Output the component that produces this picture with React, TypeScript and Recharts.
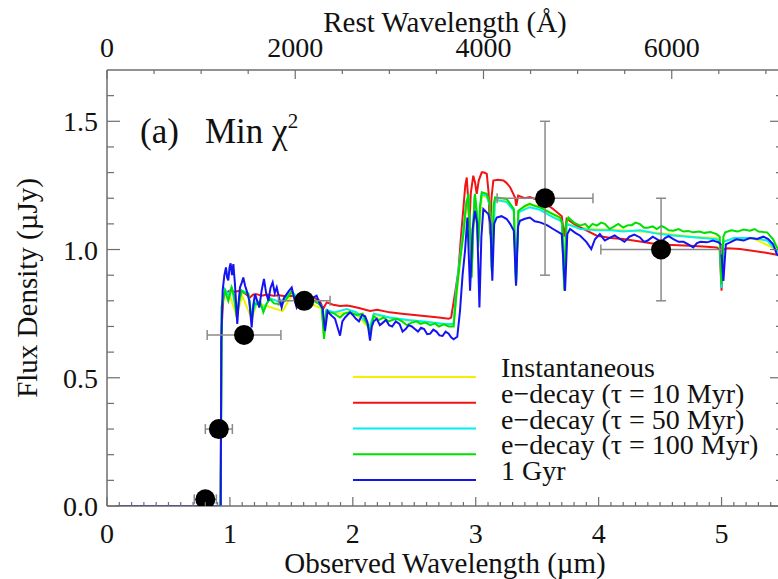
import React from "react";
import { ComposedChart, Line, Scatter, ErrorBar, XAxis, YAxis, Legend } from "recharts";

// model SEDs, [observed wavelength (um), flux density (uJy)]
const INSTANTANEOUS: [number, number][] = [
  [0.08, 0], [0.92, 0], [0.925, 0], [0.933, 0.75], [0.96, 0.83], [1.0, 0.82], [1.055, 0.74], [1.1, 0.82],
  [1.177, 0.73], [1.22, 0.79], [1.3, 0.78], [1.43, 0.76], [1.5, 0.82], [1.6, 0.8], [1.747, 0.77], [1.766, 0.66],
  [1.785, 0.76], [1.9, 0.75], [2.0, 0.76], [2.14, 0.69], [2.17, 0.745], [2.35, 0.73], [2.5, 0.72], [2.7, 0.712],
  [2.82, 0.705], [2.845, 0.83], [2.9, 1.07], [2.93, 1.19], [2.955, 1.1], [2.967, 0.91], [2.99, 1.2], [3.02, 1.02],
  [3.05, 1.21], [3.09, 1.205], [3.115, 1.17], [3.13, 0.92], [3.157, 1.19], [3.252, 1.19], [3.31, 1.155], [3.328, 0.87],
  [3.347, 1.15], [3.44, 1.175], [3.523, 1.17], [3.63, 1.135], [3.7, 1.115], [3.72, 0.845], [3.74, 1.1], [3.85, 1.085],
  [3.985, 1.08], [4.2, 1.075], [4.473, 1.065], [4.77, 1.05], [4.96, 1.045], [4.985, 1.035], [5.0, 0.85], [5.015, 1.035],
  [5.25, 1.045], [5.45, 1.0], [5.5, 0.985],
];

const EDECAY_10: [number, number][] = [
  [0.08, 0], [0.92, 0], [0.925, 0], [0.93, 0.66], [0.946, 0.826], [0.974, 0.833], [1.0, 0.84], [1.04, 0.835],
  [1.082, 0.839], [1.12, 0.83], [1.163, 0.813], [1.19, 0.825], [1.218, 0.826], [1.26, 0.82], [1.3, 0.825], [1.353, 0.82],
  [1.4, 0.822], [1.45, 0.818], [1.516, 0.82], [1.56, 0.816], [1.6, 0.815], [1.679, 0.813], [1.73, 0.8], [1.76, 0.77],
  [1.788, 0.794], [1.84, 0.785], [1.896, 0.78], [1.95, 0.782], [1.977, 0.78], [2.05, 0.772], [2.14, 0.76], [2.2, 0.765],
  [2.3, 0.755], [2.4, 0.75], [2.5, 0.745], [2.6, 0.74], [2.7, 0.735], [2.78, 0.73], [2.8, 0.735], [2.813, 0.774],
  [2.835, 0.84], [2.859, 0.917], [2.88, 1.05], [2.9, 1.164], [2.915, 1.25], [2.927, 1.281], [2.938, 1.2], [2.948, 1.086],
  [2.96, 1.22], [2.98, 1.288], [2.995, 1.26], [3.008, 1.217], [3.025, 1.27], [3.049, 1.301], [3.07, 1.3], [3.09, 1.295],
  [3.105, 1.22], [3.116, 1.06], [3.128, 1.2], [3.143, 1.269], [3.18, 1.272], [3.225, 1.269], [3.25, 1.26], [3.28, 1.243],
  [3.32, 1.203], [3.33, 1.17], [3.345, 1.21], [3.4, 1.2], [3.44, 1.205], [3.523, 1.19], [3.58, 1.175], [3.63, 1.158],
  [3.7, 1.13], [3.72, 1.05], [3.74, 1.12], [3.8, 1.1], [3.85, 1.086], [3.92, 1.07], [3.985, 1.054], [4.1, 1.045],
  [4.2, 1.041], [4.35, 1.03], [4.473, 1.021], [4.6, 1.018], [4.744, 1.015], [4.85, 1.012], [4.961, 1.008], [4.985, 1.0],
  [5.0, 0.839], [5.015, 1.0], [5.05, 1.005], [5.15, 1.002], [5.25, 0.995], [5.35, 0.988], [5.45, 0.98], [5.5, 0.975],
];

const EDECAY_50: [number, number][] = [
  [0.08, 0], [0.92, 0], [0.925, 0], [0.933, 0.78], [0.96, 0.845], [0.99, 0.82], [1.014, 0.855], [1.055, 0.75],
  [1.096, 0.84], [1.15, 0.83], [1.177, 0.74], [1.218, 0.8], [1.272, 0.77], [1.326, 0.81], [1.408, 0.795], [1.503, 0.835],
  [1.57, 0.805], [1.679, 0.805], [1.747, 0.78], [1.766, 0.67], [1.785, 0.765], [1.85, 0.755], [1.95, 0.768], [2.03, 0.755],
  [2.14, 0.7], [2.17, 0.75], [2.3, 0.735], [2.45, 0.725], [2.6, 0.718], [2.75, 0.71], [2.82, 0.71], [2.84, 0.84],
  [2.87, 0.96], [2.9, 1.08], [2.925, 1.19], [2.94, 1.2], [2.955, 1.08], [2.967, 0.92], [2.99, 1.21], [3.008, 1.14],
  [3.02, 1.03], [3.035, 1.16], [3.049, 1.215], [3.09, 1.21], [3.115, 1.17], [3.13, 0.93], [3.157, 1.195], [3.252, 1.185],
  [3.31, 1.15], [3.328, 0.87], [3.347, 1.145], [3.44, 1.165], [3.523, 1.155], [3.63, 1.125], [3.7, 1.11], [3.72, 0.85],
  [3.74, 1.1], [3.85, 1.08], [3.985, 1.075], [4.1, 1.075], [4.2, 1.07], [4.337, 1.075], [4.473, 1.062], [4.608, 1.055],
  [4.77, 1.048], [4.96, 1.04], [4.985, 1.03], [5.0, 0.85], [5.015, 1.03], [5.1, 1.045], [5.25, 1.045], [5.37, 1.035],
  [5.45, 0.995], [5.5, 0.98],
];

const EDECAY_100: [number, number][] = [
  [0.08, 0], [0.92, 0], [0.925, 0], [0.933, 0.774], [0.96, 0.839], [0.987, 0.8], [1.014, 0.852], [1.035, 0.82],
  [1.055, 0.735], [1.075, 0.8], [1.096, 0.839], [1.12, 0.83], [1.15, 0.826], [1.177, 0.722], [1.195, 0.79], [1.218, 0.787],
  [1.245, 0.8], [1.272, 0.755], [1.3, 0.79], [1.326, 0.807], [1.36, 0.79], [1.408, 0.787], [1.45, 0.8], [1.48, 0.82],
  [1.503, 0.839], [1.53, 0.8], [1.57, 0.8], [1.62, 0.81], [1.679, 0.8], [1.72, 0.79], [1.747, 0.774], [1.766, 0.651],
  [1.785, 0.76], [1.814, 0.755], [1.85, 0.75], [1.896, 0.735], [1.93, 0.75], [1.977, 0.755], [2.03, 0.745], [2.08, 0.75],
  [2.14, 0.68], [2.17, 0.74], [2.21, 0.725], [2.25, 0.735], [2.29, 0.72], [2.32, 0.725], [2.36, 0.73], [2.4, 0.72],
  [2.44, 0.705], [2.48, 0.715], [2.52, 0.72], [2.55, 0.71], [2.59, 0.715], [2.63, 0.705], [2.67, 0.712], [2.7, 0.7],
  [2.74, 0.708], [2.78, 0.7], [2.82, 0.7], [2.845, 0.839], [2.87, 0.95], [2.9, 1.06], [2.92, 1.17], [2.94, 1.217],
  [2.955, 1.05], [2.967, 0.89], [2.98, 1.1], [2.994, 1.217], [3.008, 1.15], [3.02, 1.008], [3.035, 1.17], [3.049, 1.223],
  [3.09, 1.217], [3.115, 1.18], [3.13, 0.917], [3.145, 1.17], [3.157, 1.203], [3.21, 1.2], [3.252, 1.197], [3.31, 1.158],
  [3.328, 0.865], [3.347, 1.151], [3.4, 1.17], [3.44, 1.178], [3.48, 1.17], [3.523, 1.164], [3.58, 1.15], [3.63, 1.138],
  [3.686, 1.125], [3.705, 1.1], [3.72, 0.839], [3.735, 1.1], [3.754, 1.125], [3.8, 1.105], [3.85, 1.093], [3.89, 1.1],
  [3.92, 1.085], [3.95, 1.1], [3.985, 1.093], [4.02, 1.105], [4.05, 1.1], [4.09, 1.08], [4.12, 1.088], [4.16, 1.1],
  [4.2, 1.086], [4.24, 1.095], [4.27, 1.095], [4.3, 1.105], [4.337, 1.099], [4.37, 1.085], [4.4, 1.085], [4.44, 1.09],
  [4.473, 1.08], [4.51, 1.092], [4.54, 1.085], [4.57, 1.075], [4.608, 1.073], [4.65, 1.08], [4.69, 1.07], [4.73, 1.072],
  [4.77, 1.067], [4.82, 1.07], [4.86, 1.065], [4.91, 1.068], [4.96, 1.06], [4.985, 1.05], [5.0, 0.865], [5.015, 1.05],
  [5.03, 1.067], [5.08, 1.075], [5.13, 1.07], [5.18, 1.078], [5.23, 1.073], [5.27, 1.08], [5.3, 1.07], [5.37, 1.067],
  [5.42, 1.04], [5.45, 1.008], [5.5, 0.99],
];

const GYR_1: [number, number][] = [
  [0.08, 0], [0.92, 0], [0.925, 0], [0.93, 0.64], [0.941, 0.84], [0.955, 0.9], [0.968, 0.93], [0.978, 0.89],
  [0.987, 0.88], [0.997, 0.93], [1.006, 0.946], [1.017, 0.9], [1.028, 0.943], [1.041, 0.865], [1.06, 0.71], [1.072, 0.8],
  [1.082, 0.852], [1.096, 0.87], [1.109, 0.891], [1.123, 0.86], [1.137, 0.839], [1.158, 0.8], [1.177, 0.696], [1.19, 0.78],
  [1.204, 0.826], [1.222, 0.8], [1.239, 0.774], [1.258, 0.84], [1.277, 0.885], [1.295, 0.83], [1.313, 0.8], [1.33, 0.85],
  [1.348, 0.872], [1.365, 0.83], [1.381, 0.852], [1.401, 0.81], [1.421, 0.774], [1.44, 0.81], [1.462, 0.826], [1.482, 0.84],
  [1.503, 0.852], [1.523, 0.81], [1.543, 0.774], [1.57, 0.8], [1.597, 0.813], [1.62, 0.83], [1.65, 0.8], [1.679, 0.813],
  [1.705, 0.82], [1.733, 0.787], [1.755, 0.77], [1.774, 0.683], [1.795, 0.76], [1.814, 0.748], [1.855, 0.73], [1.896, 0.664],
  [1.915, 0.72], [1.937, 0.735], [1.977, 0.755], [2.0, 0.745], [2.025, 0.73], [2.05, 0.72], [2.075, 0.745], [2.1, 0.74],
  [2.12, 0.715], [2.14, 0.645], [2.155, 0.7], [2.17, 0.72], [2.195, 0.73], [2.22, 0.705], [2.245, 0.715], [2.27, 0.725],
  [2.295, 0.705], [2.32, 0.7], [2.35, 0.72], [2.38, 0.71], [2.405, 0.68], [2.43, 0.69], [2.455, 0.705], [2.48, 0.7],
  [2.505, 0.69], [2.53, 0.68], [2.555, 0.695], [2.58, 0.69], [2.605, 0.67], [2.63, 0.672], [2.655, 0.688], [2.68, 0.68],
  [2.705, 0.665], [2.73, 0.663], [2.755, 0.68], [2.78, 0.672], [2.8, 0.658], [2.82, 0.65], [2.85, 0.66], [2.872, 0.761],
  [2.893, 0.9], [2.913, 0.995], [2.932, 1.125], [2.954, 0.839], [2.975, 1.08], [2.994, 1.151], [3.012, 1.1], [3.03, 0.774],
  [3.046, 1.05], [3.062, 1.158], [3.103, 1.138], [3.12, 1.1], [3.135, 0.878], [3.15, 1.1], [3.171, 1.125], [3.21, 1.13],
  [3.252, 1.119], [3.28, 1.1], [3.31, 1.073], [3.328, 0.859], [3.345, 1.09], [3.36, 1.112], [3.4, 1.12], [3.44, 1.125],
  [3.48, 1.11], [3.523, 1.106], [3.58, 1.095], [3.63, 1.08], [3.7, 1.06], [3.727, 0.839], [3.745, 1.06], [3.767, 1.08],
  [3.81, 1.065], [3.85, 1.054], [3.9, 1.03], [3.94, 1.002], [3.97, 1.04], [4.01, 1.06], [4.05, 1.035], [4.09, 1.045],
  [4.13, 1.055], [4.174, 1.041], [4.21, 1.03], [4.25, 1.05], [4.29, 1.058], [4.337, 1.047], [4.37, 1.03], [4.4, 1.035],
  [4.44, 1.05], [4.473, 1.041], [4.51, 1.03], [4.54, 1.045], [4.57, 1.052], [4.608, 1.041], [4.65, 1.03], [4.69, 1.03],
  [4.73, 1.02], [4.77, 1.008], [4.8, 1.025], [4.83, 1.03], [4.88, 1.028], [4.93, 1.035], [4.975, 1.028], [4.995, 1.02],
  [5.015, 0.878], [5.035, 1.02], [5.07, 1.028], [5.12, 1.04], [5.18, 1.035], [5.23, 1.045], [5.29, 1.041], [5.34, 1.05],
  [5.38, 1.041], [5.42, 1.02], [5.45, 0.982], [5.5, 0.96],
];

// photometry
const PHOT_WL = [0.8, 0.91, 1.115, 1.605, 3.564, 4.508];
const PHOT_FLUX = [0.026, 0.3, 0.667, 0.8, 1.2, 1.0];
const PHOT_WL_ERR = [0.09, 0.11, 0.3, 0.21, 0.39, 0.49];
const PHOT_FLUX_ERR = [0, 0, 0, 0, 0.3, 0.2];

const X_TICKS = [
  0, 0.1, 0.2, 0.3, 0.4, 0.5, 0.6, 0.7, 0.8, 0.9, 1, 1.1, 1.2, 1.3, 1.4, 1.5, 1.6, 1.7, 1.8, 1.9,
  2, 2.1, 2.2, 2.3, 2.4, 2.5, 2.6, 2.7, 2.8, 2.9, 3, 3.1, 3.2, 3.3, 3.4, 3.5, 3.6, 3.7, 3.8, 3.9,
  4, 4.1, 4.2, 4.3, 4.4, 4.5, 4.6, 4.7, 4.8, 4.9, 5, 5.1, 5.2, 5.3, 5.4,
];
const X_LABELS = [0, 1, 2, 3, 4, 5];
const REST_TICKS = [0, 500, 1000, 1500, 2000, 2500, 3000, 3500, 4000, 4500, 5000, 5500, 6000, 6500, 7000];
const REST_LABELS = [0, 2000, 4000, 6000];
const Y_TICKS = [0, 0.1, 0.2, 0.3, 0.4, 0.5, 0.6, 0.7, 0.8, 0.9, 1, 1.1, 1.2, 1.3, 1.4, 1.5, 1.6];
const Y_LABELS = [0, 0.5, 1, 1.5];

const Z_PLUS_1 = 7.658;
const X_MAX = 5.5;

const SERIES = [
  { name: "Instantaneous", data: INSTANTANEOUS, color: "#f2f200" },
  { name: "e\u2212decay (\u03c4 = 10 Myr)", data: EDECAY_10, color: "#f01414" },
  { name: "e\u2212decay (\u03c4 = 50 Myr)", data: EDECAY_50, color: "#00f0f0" },
  { name: "e\u2212decay (\u03c4 = 100 Myr)", data: EDECAY_100, color: "#00e000" },
  { name: "1 Gyr", data: GYR_1, color: "#1414f0" },
];

const FONT = '"Liberation Serif", "DejaVu Serif", serif';
const AXIS = "#6e6e6e";

const toPoints = (pairs: [number, number][]) => pairs.map(([x, y]) => ({ x, y }));

const photometry = PHOT_WL.map((x, i) => ({
  x,
  y: PHOT_FLUX[i],
  xErr: PHOT_WL_ERR[i],
  yErr: PHOT_FLUX_ERR[i],
}));

const BottomTick = (props: any) => {
  const { x, y, payload } = props;
  const major = X_LABELS.includes(payload.value);
  return (
    <g>
      <line x1={x} y1={y} x2={x} y2={y - (major ? 9 : 4)} stroke={AXIS} strokeWidth={1.2} />
      {major && (
        <text x={x} y={y + 37} textAnchor="middle" fontSize={28} fontFamily={FONT} fill="#111">
          {payload.value}
        </text>
      )}
    </g>
  );
};

const TopTick = (props: any) => {
  const { x, y, payload } = props;
  const major = REST_LABELS.includes(payload.value);
  return (
    <g>
      <line x1={x} y1={y} x2={x} y2={y + (major ? 9 : 4)} stroke={AXIS} strokeWidth={1.2} />
      {major && (
        <text x={x} y={y - 13} textAnchor="middle" fontSize={28} fontFamily={FONT} fill="#111">
          {payload.value}
        </text>
      )}
    </g>
  );
};

const LeftTick = (props: any) => {
  const { x, y, payload } = props;
  const major = Y_LABELS.includes(payload.value);
  return (
    <g>
      <line x1={x} y1={y} x2={x + (major ? 13 : 7)} y2={y} stroke={AXIS} strokeWidth={1.2} />
      {major && (
        <text x={x - 9} y={y + 10} textAnchor="end" fontSize={28} fontFamily={FONT} fill="#111">
          {payload.value.toFixed(1)}
        </text>
      )}
    </g>
  );
};

const RightTick = (props: any) => {
  const { x, y, payload } = props;
  const major = Y_LABELS.includes(payload.value);
  return <line x1={x} y1={y} x2={x - (major ? 13 : 7)} y2={y} stroke={AXIS} strokeWidth={1.2} />;
};

const LegendBox = () => (
  <svg width={430} height={150} style={{ display: "block" }}>
    {SERIES.map((s, i) => (
      <g key={s.name}>
        <line x1={1} x2={124} y1={32 + i * 25.75} y2={32 + i * 25.75} stroke={s.color} strokeWidth={2.2} />
        <text x={149} y={32 + i * 25.75} fontSize={28} fontFamily={FONT} fill="#111">
          {s.name}
        </text>
      </g>
    ))}
  </svg>
);

const ScatterDot = (props: any) => <circle cx={props.cx} cy={props.cy} r={10} fill="#000" />;

export default function App() {
  return (
    <div style={{ position: "absolute", left: 0, top: 0, width: 778, height: 579, overflow: "hidden", background: "#fff" }}>
      <ComposedChart width={784} height={579} margin={{ top: 0, right: 0, bottom: 0, left: 0 }}>
        <XAxis
          dataKey="x"
          type="number"
          domain={[0, X_MAX]}
          allowDataOverflow
          ticks={X_TICKS}
          interval={0}
          height={73}
          tickSize={0}
          tickMargin={0}
          tickLine={false}
          axisLine={{ stroke: AXIS, strokeWidth: 1.5 }}
          tick={<BottomTick />}
          label={{
            value: "Observed Wavelength (\u00b5m)",
            position: "insideBottom",
            offset: 6,
            style: { fontSize: 29, fontFamily: FONT, fill: "#111" },
          }}
        />
        <XAxis
          xAxisId="top"
          orientation="top"
          dataKey="x"
          type="number"
          domain={[0, (X_MAX * 10000) / Z_PLUS_1]}
          allowDataOverflow
          ticks={REST_TICKS}
          interval={0}
          height={70}
          tickSize={0}
          tickMargin={0}
          tickLine={false}
          axisLine={{ stroke: AXIS, strokeWidth: 1.5 }}
          tick={<TopTick />}
          label={{
            value: "Rest Wavelength (\u00c5)",
            position: "insideTop",
            offset: 11,
            style: { fontSize: 29, fontFamily: FONT, fill: "#111" },
          }}
        />
        <YAxis
          type="number"
          domain={[0, 1.7]}
          allowDataOverflow
          ticks={Y_TICKS}
          interval={0}
          width={107}
          tickSize={0}
          tickMargin={0}
          tickLine={false}
          axisLine={{ stroke: AXIS, strokeWidth: 1.5 }}
          tick={<LeftTick />}
          label={{
            value: "Flux Density (\u00b5Jy)",
            angle: -90,
            position: "insideLeft",
            offset: 27,
            style: { fontSize: 29, fontFamily: FONT, fill: "#111", textAnchor: "middle" },
          }}
        />
        <YAxis
          yAxisId="right"
          orientation="right"
          type="number"
          domain={[0, 1.7]}
          allowDataOverflow
          ticks={Y_TICKS}
          interval={0}
          width={1}
          tickSize={0}
          tickMargin={0}
          tickLine={false}
          axisLine={{ stroke: AXIS, strokeWidth: 1.5 }}
          tick={<RightTick />}
        />
        <Legend
          layout="vertical"
          align="center"
          verticalAlign="middle"
          wrapperStyle={{ left: 352, top: 345, width: 430, height: 150 }}
          content={() => <LegendBox />}
        />
        {SERIES.map((s) => (
          <Line
            key={s.name}
            data={toPoints(s.data)}
            dataKey="y"
            name={s.name}
            type="linear"
            stroke={s.color}
            strokeWidth={2}
            dot={false}
            activeDot={false}
            isAnimationActive={false}
          />
        ))}
        <Scatter data={photometry} dataKey="y" shape={<ScatterDot />} isAnimationActive={false}>
          <ErrorBar dataKey="xErr" direction="x" stroke="#8a8a8a" strokeWidth={1.5} width={5} />
          <ErrorBar dataKey="yErr" direction="y" stroke="#8a8a8a" strokeWidth={1.5} width={5} />
        </Scatter>
      </ComposedChart>
      <svg width={778} height={579} style={{ position: "absolute", left: 0, top: 0, pointerEvents: "none" }}>
        <text x={140} y={143} fontSize={35} fontFamily={FONT} fill="#111">
          (a)
        </text>
        <text x={205} y={143} fontSize={35} fontFamily={FONT} fill="#111">
          Min {"\u03c7"}
          <tspan dy={-15} fontSize={21}>
            2
          </tspan>
        </text>
      </svg>
    </div>
  );
}
